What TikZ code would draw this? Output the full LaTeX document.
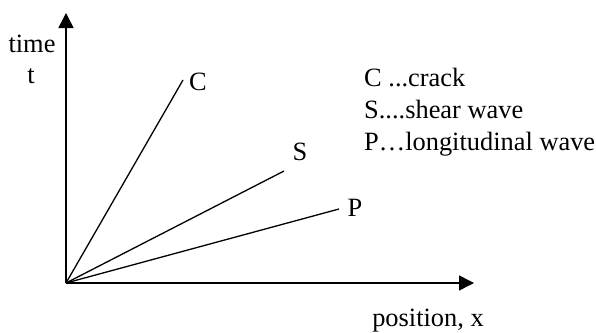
\documentclass[tikz,border=0pt]{standalone}
\usepackage{fontspec}
\setmainfont{Liberation Serif}
\usetikzlibrary{arrows.meta}
\begin{document}
\begin{tikzpicture}[x=1pt,y=-1pt,
  axis/.style={line width=1.5pt,-{Triangle[length=15pt,width=15pt]}},
  ray/.style={line width=1.3pt},
  lbl/.style={inner sep=0pt,anchor=base,font=\fontsize{26.4}{30}\selectfont},
  leg/.style={inner sep=0pt,anchor=base west,font=\fontsize{26.4}{30}\selectfont}]
\useasboundingbox (0,0) rectangle (596,332);
\coordinate (O) at (66,283);
\coordinate (T) at (66,13);
\coordinate (X) at (474,283);
\coordinate (Cend) at (183,80);
\coordinate (Send) at (284,171);
\coordinate (Pend) at (339,209);
\draw[axis] (O) -- (T);
\draw[axis] (O) -- (X);
\draw[ray] (O) -- (Cend);
\draw[ray] (O) -- (Send);
\draw[ray] (O) -- (Pend);
\node[lbl] (time) at (32,52) {time};
\node[lbl] (t) at (31,83) {t};
\node[lbl] (C) at (198,90) {C};
\node[lbl] (S) at (300,160) {S};
\node[lbl] (P) at (355,216) {P};
\node[lbl] (pos) at (428,326) {position, x};
\node[leg] (l1) at (364,86) {C ...crack};
\node[leg] (l2) at (364,118) {S....shear wave};
\node[leg] (l3) at (364,150) {P…longitudinal wave};
\end{tikzpicture}
\end{document}
